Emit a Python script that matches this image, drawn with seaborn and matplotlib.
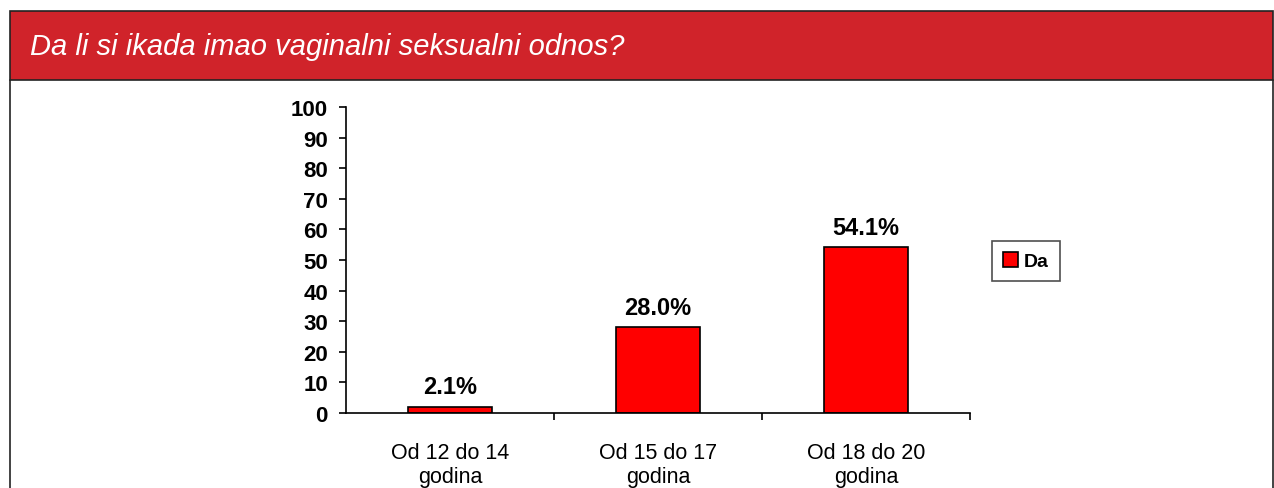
import matplotlib
matplotlib.use('Agg')
import matplotlib.pyplot as plt
import matplotlib.patches as mpatches
import seaborn as sns
import pandas as pd

# Data
categories = ['Od 12 do 14\ngodina', 'Od 15 do 17\ngodina', 'Od 18 do 20\ngodina']
values = [2.1, 28.0, 54.1]
series_name = 'Da'
title = 'Da li si ikada imao vaginalni seksualni odnos?'

df = pd.DataFrame({'grupa': categories, 'procenat': values, 'odgovor': series_name})

sns.set_style('white')
plt.rcParams['font.family'] = ['Liberation Sans', 'DejaVu Sans']
plt.rcParams['text.color'] = 'black'
plt.rcParams['xtick.color'] = 'black'
plt.rcParams['ytick.color'] = 'black'

fig = plt.figure(figsize=(12.74, 4.89), dpi=100)

# header band and outer frame
fig.patches.append(mpatches.Rectangle((10 / 1274, 1 - 81 / 489), 1263 / 1274, 69 / 489,
                                      transform=fig.transFigure, facecolor='#D0232A',
                                      edgecolor='#222222', linewidth=1.2))
fig.add_artist(plt.Line2D([10 / 1274, 10 / 1274], [0, 1 - 81 / 489], color='#222222', lw=1.2))
fig.add_artist(plt.Line2D([1273 / 1274, 1273 / 1274], [0, 1 - 81 / 489], color='#222222', lw=1.2))
fig.text(30 / 1274, 1 - 47 / 489, title, color='white', fontsize=21, style='italic',
         va='center', ha='left')

ax = fig.add_axes([346 / 1274, 1 - 414 / 489, 624 / 1274, 306 / 489])
sns.barplot(data=df, x='grupa', y='procenat', hue='odgovor', palette={series_name: '#FF0000'},
            width=0.4, dodge=False, saturation=1, edgecolor='black', linewidth=1.2, ax=ax)

for i, v in enumerate(values):
    ax.text(i, v + 2.8, f'{v:.1f}%', ha='center', va='bottom', fontsize=17, fontweight='bold')

ax.set_ylim(0, 100)
ax.set_xlim(-0.5, 2.5)
ax.set_yticks(range(0, 101, 10))
ax.set_xlabel('')
ax.set_ylabel('')
for s in ['top', 'right']:
    ax.spines[s].set_visible(False)
for s in ['left', 'bottom']:
    ax.spines[s].set_color('black')
    ax.spines[s].set_linewidth(1.2)

ax.tick_params(axis='y', direction='out', length=5, width=1.2, labelsize=16, pad=8, left=True)
for lbl in ax.get_yticklabels():
    lbl.set_fontweight('bold')
ax.tick_params(axis='x', which='major', length=0, labelsize=15.5, pad=21)
ax.set_xticks([0.5, 1.5, 2.5], minor=True)
ax.tick_params(axis='x', which='minor', direction='out', length=5, width=1.2, bottom=True)
for lbl in ax.get_xticklabels():
    lbl.set_linespacing(1.2)

handles, labels = ax.get_legend_handles_labels()
ax.legend(handles, labels, loc='center left', bbox_to_anchor=(992 / 1274, 1 - 262 / 489),
          bbox_transform=fig.transFigure, frameon=True, fancybox=False, edgecolor='#222222',
          prop={'weight': 'bold', 'size': 14}, handlelength=0.8, handleheight=0.8,
          handletextpad=0.3, borderpad=0.55, borderaxespad=0)
ax.get_legend().get_frame().set_linewidth(1.2)

fig.savefig('out.png', dpi=100)
